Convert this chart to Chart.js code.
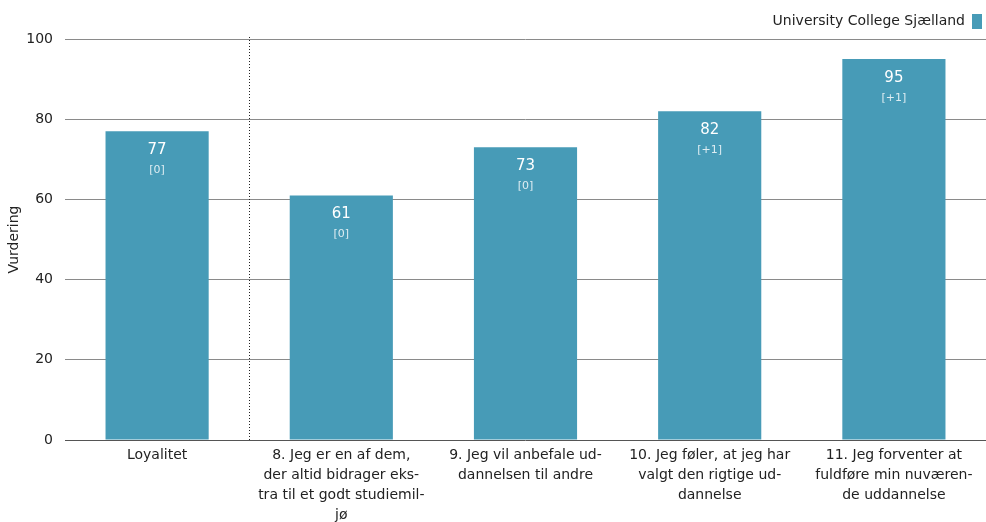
<!DOCTYPE html>
<html>
<head>
<meta charset="utf-8">
<script src="https://cdn.jsdelivr.net/npm/chart.js@4"></script>
<style>
html,body{margin:0;padding:0;background:#fff;}
#wrap{width:986px;height:522px;position:relative;}
</style>
</head>
<body>
<div id="wrap"><canvas id="c" width="986" height="522"></canvas></div>
<script>
const categories = [
  "Loyalitet",
  ["8. Jeg er en af dem,", "der altid bidrager eks-", "tra til et godt studiemil-", "jø"],
  ["9. Jeg vil anbefale ud-", "dannelsen til andre"],
  ["10. Jeg føler, at jeg har", "valgt den rigtige ud-", "dannelse"],
  ["11. Jeg forventer at", "fuldføre min nuværen-", "de uddannelse"]
];
const seriesName = "University College Sjælland";
const values = [77, 61, 73, 82, 95];
const deltas = ["[0]", "[0]", "[0]", "[+1]", "[+1]"];
const yTicks = [0, 20, 40, 60, 80, 100];

const FONT = "'DejaVu Sans', Verdana, sans-serif";
const BAR = "#479bb7";

const labelPlugin = {
  id: 'barLabels',
  afterDatasetsDraw(chart) {
    const ctx = chart.ctx;
    const meta = chart.getDatasetMeta(0);
    ctx.save();
    ctx.textAlign = 'center';
    ctx.textBaseline = 'middle';
    meta.data.forEach((bar, i) => {
      ctx.fillStyle = '#ffffff';
      ctx.font = "15px " + FONT;
      ctx.fillText(String(values[i]), bar.x, bar.y + 19);
      ctx.fillStyle = 'rgba(255,255,255,0.82)';
      ctx.font = "11px " + FONT;
      ctx.fillText(deltas[i], bar.x, bar.y + 39);
    });
    ctx.restore();
  }
};

const dividerPlugin = {
  id: 'divider',
  afterDatasetsDraw(chart) {
    const x = chart.scales.x;
    const y = chart.scales.y;
    const px = Math.round((x.getPixelForValue(0) + x.getPixelForValue(1)) / 2) + 0.5;
    const ctx = chart.ctx;
    ctx.save();
    ctx.strokeStyle = '#222';
    ctx.lineWidth = 1;
    ctx.setLineDash([1, 2]);
    ctx.beginPath();
    ctx.moveTo(px, y.getPixelForValue(100) - 2);
    ctx.lineTo(px, y.getPixelForValue(0));
    ctx.stroke();
    ctx.restore();
  }
};

new Chart(document.getElementById('c'), {
  type: 'bar',
  data: {
    labels: categories,
    datasets: [{
      label: seriesName,
      data: values,
      backgroundColor: BAR,
      borderWidth: 0,
      categoryPercentage: 1,
      barPercentage: 0.56
    }]
  },
  options: {
    responsive: false,
    animation: false,
    devicePixelRatio: 1,
    layout: { padding: { left: 6, right: 0, top: 10, bottom: -8 } },
    plugins: {
      tooltip: { enabled: false },
      legend: {
        position: 'top',
        align: 'start',
        rtl: true,
        labels: {
          font: { family: FONT, size: 14 },
          color: '#222',
          boxWidth: 10,
          boxHeight: 15,
          padding: 4
        }
      }
    },
    scales: {
      x: {
        grid: { display: false, drawTicks: false },
        border: { display: false },
        ticks: {
          font: { family: FONT, size: 14, lineHeight: '20px' },
          color: '#222',
          maxRotation: 0,
          autoSkip: false,
          padding: 5
        }
      },
      y: {
        min: 0,
        max: 100,
        afterBuildTicks(scale) { scale.ticks = yTicks.map(v => ({ value: v })); },
        afterFit(scale) { scale.width = 59; },
        grid: {
          color: (c) => c.tick && c.tick.value === 0 ? '#555' : '#8a8a8a',
          drawTicks: false
        },
        border: { display: false },
        ticks: {
          font: { family: FONT, size: 14 },
          color: '#222',
          padding: 12
        },
        title: {
          display: true,
          text: 'Vurdering',
          font: { family: FONT, size: 14 },
          color: '#222',
          padding: { top: 0, bottom: 4 }
        }
      }
    }
  },
  plugins: [labelPlugin, dividerPlugin]
});
</script>
</body>
</html>
